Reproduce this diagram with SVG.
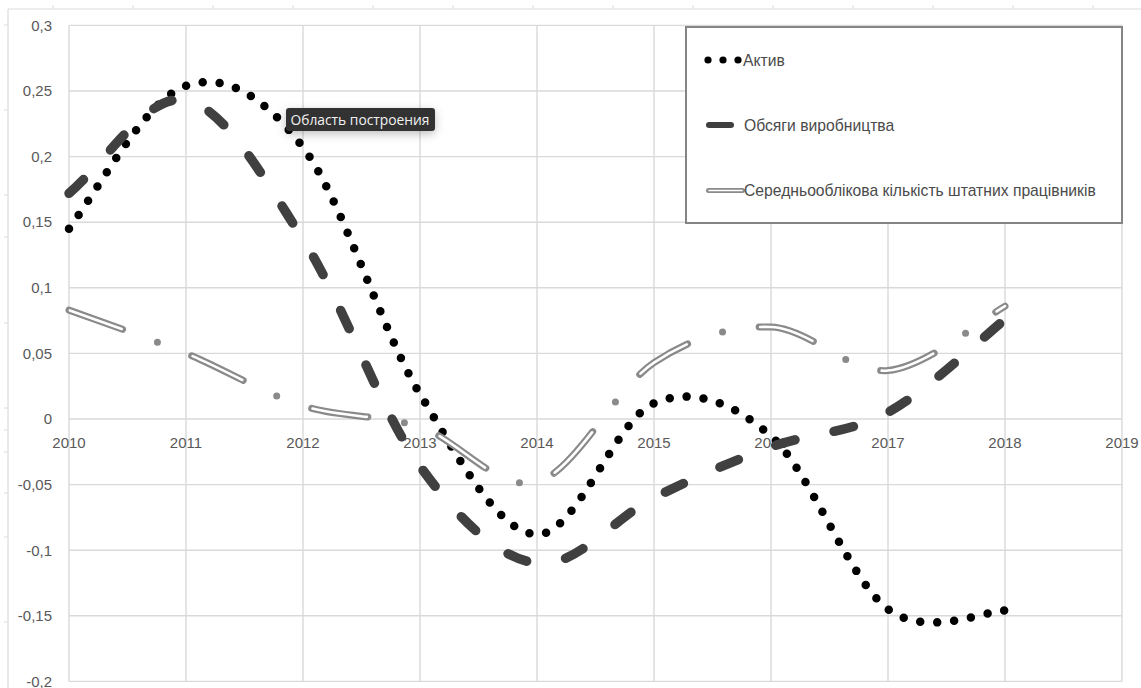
<svg xmlns="http://www.w3.org/2000/svg" width="1141" height="688" viewBox="0 0 1141 688">
  <defs>
    <style>
      .grid { stroke: #d9d9d9; stroke-width: 1.4; fill: none; }
      .frame { stroke: #dcdcdc; stroke-width: 1.2; fill: none; }
      .lbl { font-family: "Liberation Sans", Arial, sans-serif; font-size: 15px; fill: #595959; }
      .ylbl { text-anchor: end; }
      .xlbl { text-anchor: middle; }
      .leg { font-family: "Liberation Sans", Arial, sans-serif; font-size: 15.7px; fill: #4a4a4a; }
      .sA { fill: none; stroke: #000; stroke-width: 8.5; stroke-linecap: round; stroke-dasharray: 0 17; }
      .sB { fill: none; stroke: #404040; stroke-width: 9.5; stroke-linecap: round; stroke-dasharray: 20 40; }
      .sCo { fill: none; stroke: #8a8a8a; stroke-width: 7; stroke-linecap: round; stroke-dasharray: 57 37 0 37; }
      .sCi { fill: none; stroke: #ffffff; stroke-width: 2.6; stroke-linecap: round; stroke-dasharray: 55 76; stroke-dashoffset: -1; }
    </style>
    <filter id="shadow" x="-20%" y="-60%" width="140%" height="240%">
      <feDropShadow dx="0" dy="3" stdDeviation="5" flood-color="#000" flood-opacity="0.25"/>
    </filter>
  </defs>
  <rect x="0" y="0" width="1141" height="688" fill="#ffffff"/>

  <g id="chart-frame">
    <line class="frame" x1="8" y1="9" x2="1141" y2="9"/>
    <line class="frame" x1="8" y1="9" x2="8" y2="688"/>
    <g stroke="#dcdcdc" stroke-width="1">
      <line x1="53" y1="5" x2="53" y2="9"/><line x1="133" y1="5" x2="133" y2="9"/><line x1="213" y1="5" x2="213" y2="9"/>
      <line x1="293" y1="5" x2="293" y2="9"/><line x1="373" y1="5" x2="373" y2="9"/><line x1="453" y1="5" x2="453" y2="9"/>
      <line x1="533" y1="5" x2="533" y2="9"/><line x1="613" y1="5" x2="613" y2="9"/><line x1="693" y1="5" x2="693" y2="9"/>
      <line x1="773" y1="5" x2="773" y2="9"/><line x1="853" y1="5" x2="853" y2="9"/><line x1="933" y1="5" x2="933" y2="9"/>
      <line x1="1013" y1="5" x2="1013" y2="9"/><line x1="1093" y1="5" x2="1093" y2="9"/>
      <line x1="4" y1="25" x2="8" y2="25"/><line x1="4" y1="110" x2="8" y2="110"/><line x1="4" y1="195" x2="8" y2="195"/>
      <line x1="4" y1="237" x2="8" y2="237"/><line x1="4" y1="323" x2="8" y2="323"/><line x1="4" y1="408" x2="8" y2="408"/>
      <line x1="4" y1="430" x2="8" y2="430"/><line x1="4" y1="452" x2="8" y2="452"/><line x1="4" y1="493" x2="8" y2="493"/>
      <line x1="4" y1="537" x2="8" y2="537"/><line x1="4" y1="622" x2="8" y2="622"/>
    </g>
  </g>

  <g id="grid">
    <line class="grid" x1="69" y1="25.4" x2="1122" y2="25.4"/>
    <line class="grid" x1="69" y1="91" x2="1122" y2="91"/>
    <line class="grid" x1="69" y1="156.6" x2="1122" y2="156.6"/>
    <line class="grid" x1="69" y1="222.2" x2="1122" y2="222.2"/>
    <line class="grid" x1="69" y1="287.8" x2="1122" y2="287.8"/>
    <line class="grid" x1="69" y1="353.4" x2="1122" y2="353.4"/>
    <line class="grid" x1="69" y1="419" x2="1122" y2="419"/>
    <line class="grid" x1="69" y1="484.6" x2="1122" y2="484.6"/>
    <line class="grid" x1="69" y1="550.2" x2="1122" y2="550.2"/>
    <line class="grid" x1="69" y1="615.8" x2="1122" y2="615.8"/>
    <line class="grid" x1="69" y1="681.4" x2="1122" y2="681.4"/>
    <line class="grid" x1="69" y1="25.4" x2="69" y2="681.4"/>
    <line class="grid" x1="186" y1="25.4" x2="186" y2="681.4"/>
    <line class="grid" x1="303" y1="25.4" x2="303" y2="681.4"/>
    <line class="grid" x1="420" y1="25.4" x2="420" y2="681.4"/>
    <line class="grid" x1="537" y1="25.4" x2="537" y2="681.4"/>
    <line class="grid" x1="654" y1="25.4" x2="654" y2="681.4"/>
    <line class="grid" x1="771" y1="25.4" x2="771" y2="681.4"/>
    <line class="grid" x1="888" y1="25.4" x2="888" y2="681.4"/>
    <line class="grid" x1="1005" y1="25.4" x2="1005" y2="681.4"/>
    <line class="grid" x1="1122" y1="25.4" x2="1122" y2="681.4"/>
  </g>

  <g id="y-axis-labels" class="lbl ylbl">
    <text x="52" y="30.5">0,3</text>
    <text x="52" y="96">0,25</text>
    <text x="52" y="161.5">0,2</text>
    <text x="52" y="227">0,15</text>
    <text x="52" y="293">0,1</text>
    <text x="52" y="358.5">0,05</text>
    <text x="52" y="424">0</text>
    <text x="52" y="490">-0,05</text>
    <text x="52" y="555.5">-0,1</text>
    <text x="52" y="621">-0,15</text>
    <text x="52" y="686.5">-0,2</text>
  </g>

  <g id="x-axis-labels" class="lbl xlbl">
    <text x="69" y="448">2010</text>
    <text x="186" y="448">2011</text>
    <text x="303" y="448">2012</text>
    <text x="420" y="448">2013</text>
    <text x="537" y="448">2014</text>
    <text x="654" y="448">2015</text>
    <text x="771" y="448">2016</text>
    <text x="888" y="448">2017</text>
    <text x="1005" y="448">2018</text>
    <text x="1122" y="448">2019</text>
  </g>

  <g id="connectors">
    <path id="series-aktyv" class="sA" d="M69,228.8 C108,174 147,99.4 186,85.8 C225,72.2 264,96 303,147.4 C342,198.8 381,329.6 420,394.1 C459,458.6 498,533 537,534.5 C576,536 615,419.7 654,403.3 C693,386.9 732,401.8 771,436.1 C810,470.4 849,580.1 888,609.2 C927,638.3 985.5,610.4 1005,610.6"/>
    <path id="series-obsyahy" class="sB" d="M69,193.3 C108,160 147,92.5 186,100.2 C225,107.9 264,178.3 303,239.3 C342,300.3 381,412.2 420,466.2 C459,520.2 498,558.1 537,563.3 C576,568.6 615,517.1 654,497.7 C693,478.3 732,461.2 771,447 C810,432.8 849,433.7 888,412.4 C927,391.1 985.5,334.8 1005,319.3"/>
    <g id="series-personnel">
      <path class="sCo" d="M69,310.1 C88.5,317.3 147,337.4 186,353.4 C225,369.4 264,393.7 303,405.9 C342,418.2 381,414.2 420,426.9 C459,439.6 498,492.7 537,482 C576,471.3 615,388.4 654,362.6 C693,336.8 732,325.7 771,327 C810,328.3 849,374 888,370.5 C927,367 985.5,316.9 1005,306.2"/>
      <path class="sCi" d="M69,310.1 C88.5,317.3 147,337.4 186,353.4 C225,369.4 264,393.7 303,405.9 C342,418.2 381,414.2 420,426.9 C459,439.6 498,492.7 537,482 C576,471.3 615,388.4 654,362.6 C693,336.8 732,325.7 771,327 C810,328.3 849,374 888,370.5 C927,367 985.5,316.9 1005,306.2"/>
    </g>
  </g>

  <g id="legend">
    <rect x="686" y="27" width="436" height="196" fill="#ffffff" stroke="#858585" stroke-width="2"/>
    <g id="legend-aktyv">
      <circle cx="708" cy="60" r="3.6" fill="#000"/>
      <circle cx="723" cy="60" r="3.6" fill="#000"/>
      <circle cx="738" cy="60" r="3.6" fill="#000"/>
      <text class="leg" x="743" y="65.5">Актив</text>
    </g>
    <g id="legend-obsyahy">
      <line x1="709" y1="125" x2="731" y2="125" stroke="#404040" stroke-width="6" stroke-linecap="round"/>
      <text class="leg" x="744" y="130.5">Обсяги виробництва</text>
    </g>
    <g id="legend-personnel">
      <line x1="708.5" y1="190.5" x2="742.5" y2="190.5" stroke="#8a8a8a" stroke-width="5" stroke-linecap="round"/>
      <line x1="709" y1="190.5" x2="742" y2="190.5" stroke="#ffffff" stroke-width="1.6" stroke-linecap="round"/>
      <text class="leg" x="744" y="196">Середньооблікова кількість штатних працівників</text>
    </g>
  </g>

  <g id="tooltip">
    <rect x="286" y="108" width="149" height="23" rx="3" fill="#333333" filter="url(#shadow)"/>
    <text x="290.5" y="124.5" font-family="'Open Sans', 'Liberation Sans', sans-serif" font-size="13.8px" fill="#f2f2f2">Область построения</text>
  </g>
</svg>
